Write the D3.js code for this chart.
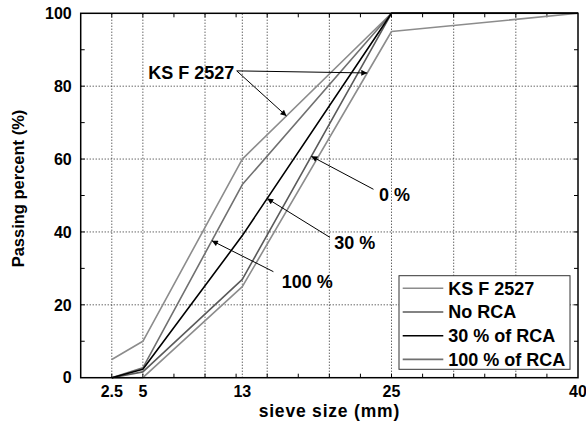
<!DOCTYPE html>
<html>
<head>
<meta charset="utf-8">
<script src="https://cdn.jsdelivr.net/npm/d3@7"></script>
<style>
  html, body { margin: 0; padding: 0; background: #fff; }
  svg { display: block; }
  text { font-family: "Liberation Sans", Arial, sans-serif; font-weight: bold; fill: #000; }
</style>
</head>
<body>
<svg id="chart" width="586" height="424"></svg>
<script>
// ---- data ----
const sieveSizes = [2.5, 5, 13, 25, 40];
const ksUpper   = [5, 10, 60, 100, 100];
const ksLower   = [0, 0, 25, 95, 100];
const noRCA     = [0, 1.6, 27, 100, 100];
const rca30     = [0, 2.3, 39, 100, 100];
const rca100    = [0, 2.7, 53, 100, 100];

const xTickLabels = [2.5, 5, 13, 25, 40];
const xGridValues = [2.5, 5, 10, 13, 15, 20, 25, 30, 35];
const yTickLabels = [0, 20, 40, 60, 80, 100];
const yGridValues = [20, 40, 60, 80];

const legendNames  = ["KS F 2527", "No RCA", "30 % of RCA", "100 % of RCA"];
const seriesColors = ["#8c8c8c", "#5a5a5a", "#000000", "#707070"];

// ---- layout ----
const W = 586, H = 424;
const m = { left: 80.7, right: 8, top: 13.3, bottom: 46.3 };
const svg = d3.select("#chart");

const x = d3.scaleLinear().domain([0, 40]).range([m.left, W - m.right]);
const y = d3.scaleLinear().domain([0, 100]).range([H - m.bottom, m.top]);

// defs: arrowhead
svg.append("defs").append("marker")
  .attr("id", "arrow").attr("viewBox", "0 0 10 10")
  .attr("refX", 10).attr("refY", 5)
  .attr("markerWidth", 8).attr("markerHeight", 6)
  .attr("markerUnits", "userSpaceOnUse")
  .attr("orient", "auto")
  .append("path").attr("d", "M0,0 L10,5 L0,10 Z").attr("fill", "#000");

// gridlines
const grid = svg.append("g");
grid.selectAll("line.vg").data(xGridValues).join("line")
  .attr("x1", d => x(d)).attr("x2", d => x(d))
  .attr("y1", y(0)).attr("y2", y(100))
  .attr("stroke", "#222").attr("stroke-width", 1).attr("stroke-dasharray", "1,2");
grid.selectAll("line.hg").data(yGridValues).join("line")
  .attr("x1", x(0)).attr("x2", x(40))
  .attr("y1", d => y(d)).attr("y2", d => y(d))
  .attr("stroke", "#222").attr("stroke-width", 1).attr("stroke-dasharray", "1,2");

// minor ticks on all four sides (inward)
const xMinor = d3.range(2.5, 40, 2.5);
const yMinor = d3.range(10, 100, 10);
const tl = 4;
const ticks = svg.append("g").attr("stroke", "#000").attr("stroke-width", 1);
ticks.selectAll("line.xb").data(xMinor).join("line")
  .attr("x1", d => x(d)).attr("x2", d => x(d)).attr("y1", y(0)).attr("y2", y(0) - tl);
ticks.selectAll("line.xt").data(xMinor).join("line")
  .attr("x1", d => x(d)).attr("x2", d => x(d)).attr("y1", y(100)).attr("y2", y(100) + tl);
ticks.selectAll("line.yl").data(yMinor).join("line")
  .attr("x1", x(0)).attr("x2", x(0) + tl).attr("y1", d => y(d)).attr("y2", d => y(d));
ticks.selectAll("line.yr").data(yMinor).join("line")
  .attr("x1", x(40)).attr("x2", x(40) - tl).attr("y1", d => y(d)).attr("y2", d => y(d));

// series
const series = [
  { name: "KS upper", vals: ksUpper, color: seriesColors[0] },
  { name: "KS lower", vals: ksLower, color: seriesColors[0] },
  { name: "No RCA",   vals: noRCA,   color: seriesColors[1] },
  { name: "100 %",    vals: rca100,  color: seriesColors[3] },
  { name: "30 %",     vals: rca30,   color: seriesColors[2] }
];
const line = d3.line().x(d => x(d[0])).y(d => y(d[1]));
svg.append("g").selectAll("path").data(series).join("path")
  .attr("d", s => line(sieveSizes.map((v, i) => [v, s.vals[i]])))
  .attr("fill", "none").attr("stroke", s => s.color).attr("stroke-width", 1.6)
  .attr("stroke-linejoin", "round");

// frame
svg.append("rect")
  .attr("x", x(0)).attr("y", y(100))
  .attr("width", x(40) - x(0)).attr("height", y(0) - y(100))
  .attr("fill", "none").attr("stroke", "#000").attr("stroke-width", 1.5);

// tick labels
svg.append("g").selectAll("text").data(xTickLabels).join("text")
  .attr("x", d => x(d)).attr("y", y(0) + 19.5)
  .attr("text-anchor", "middle").attr("font-size", 16)
  .text(d => d);
svg.append("g").selectAll("text").data(yTickLabels).join("text")
  .attr("x", x(0) - 9).attr("y", d => y(d)).attr("dy", "0.36em")
  .attr("text-anchor", "end").attr("font-size", 16)
  .text(d => d);

// axis titles
svg.append("text")
  .attr("x", (x(0) + x(40)) / 2).attr("y", 417)
  .attr("text-anchor", "middle").attr("font-size", 17.5).attr("letter-spacing", 0.8)
  .text("sieve size (mm)");
svg.append("text")
  .attr("transform", "translate(24," + 188.5 + ") rotate(-90)")
  .attr("text-anchor", "middle").attr("font-size", 16.5)
  .text("Passing percent (%)");

// annotations (positions in data units)
function interp(vals, xv) {
  return d3.scaleLinear().domain(sieveSizes).range(vals)(xv);
}
const annotations = [
  { label: "KS F 2527", tx: 12.35, ty: 82.0, anchor: "end", sx: 12.55, sy: 84.2,
    targets: [{ vals: ksUpper, at: 16.55 }, { vals: ksLower, at: 23.05 }] },
  { label: "0 %", tx: 24.0, ty: 48.6, anchor: "start", sx: 23.55, sy: 51.7,
    targets: [{ vals: noRCA, at: 18.55 }] },
  { label: "30 %", tx: 20.4, ty: 35.2, anchor: "start", sx: 20.05, sy: 38.5,
    targets: [{ vals: rca30, at: 15.0 }] },
  { label: "100 %", tx: 16.17, ty: 24.6, anchor: "start", sx: 15.5, sy: 29.1,
    targets: [{ vals: rca100, at: 10.55 }] }
];
const ann = svg.append("g");
annotations.forEach(a => {
  a.targets.forEach(t => {
    ann.append("line")
      .attr("x1", x(a.sx)).attr("y1", y(a.sy))
      .attr("x2", x(t.at)).attr("y2", y(interp(t.vals, t.at)))
      .attr("stroke", "#000").attr("stroke-width", 1)
      .attr("marker-end", "url(#arrow)");
  });
  ann.append("text")
    .attr("x", x(a.tx)).attr("y", y(a.ty))
    .attr("text-anchor", a.anchor).attr("font-size", 18)
    .text(a.label);
});

// legend
const lg = svg.append("g").attr("transform", "translate(399,275.7)");
lg.append("rect").attr("width", 171).attr("height", 93.6)
  .attr("fill", "#fff").attr("stroke", "#333").attr("stroke-width", 1);
const rows = lg.selectAll("g.row").data(legendNames).join("g")
  .attr("transform", (d, i) => "translate(0," + (12.6 + i * 23.7) + ")");
rows.append("line").attr("x1", 3.7).attr("x2", 44.3).attr("y1", 0).attr("y2", 0)
  .attr("stroke", (d, i) => seriesColors[i]).attr("stroke-width", 1.6);
rows.append("text").attr("x", 49.3).attr("y", 0).attr("dy", "0.36em")
  .attr("font-size", 18).text(d => d);
</script>
</body>
</html>
